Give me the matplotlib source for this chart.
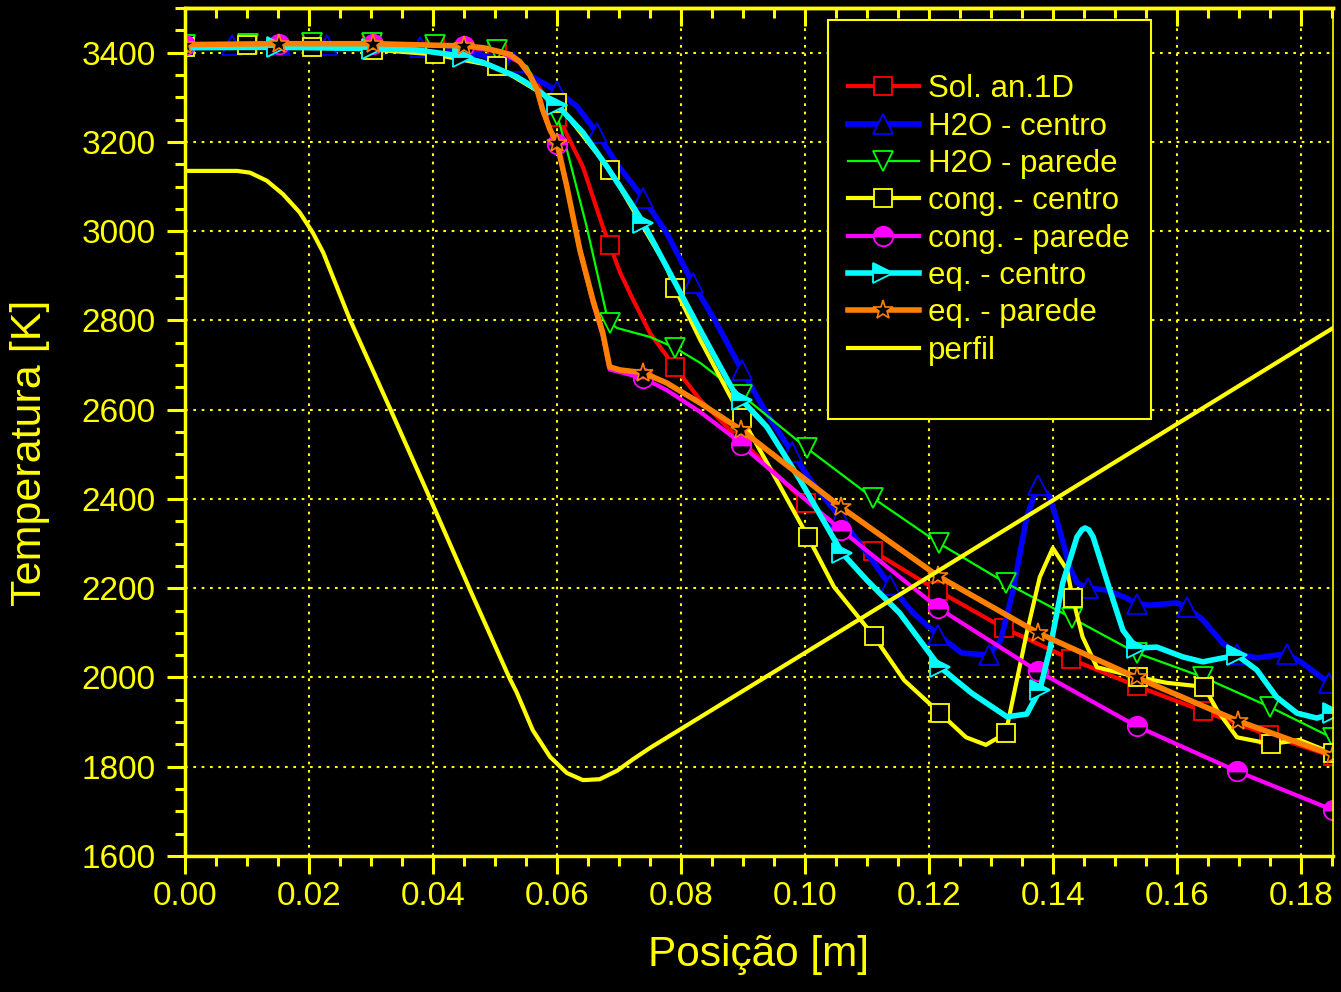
import numpy as np
import matplotlib
matplotlib.use('Agg')
import matplotlib.pyplot as plt
from matplotlib.lines import Line2D
from matplotlib.patches import Rectangle
from matplotlib.ticker import MultipleLocator, FormatStrFormatter

plt.rcParams['font.family'] = ['Liberation Sans', 'DejaVu Sans']

# Sol. an.1D
sol_x = [0.0, 0.0102, 0.0205, 0.0302, 0.0403, 0.0503, 0.054, 0.0568, 0.059, 0.06, 0.061, 0.0642, 0.0674,
         0.0685, 0.0702, 0.0723, 0.075, 0.079, 0.0831, 0.0884, 0.0898, 0.1002, 0.111, 0.1215, 0.1321,
         0.1429, 0.1535, 0.1642, 0.1748, 0.1852]
sol_y = [3418, 3419, 3420, 3420, 3418, 3404, 3378, 3330, 3280, 3255, 3234, 3144, 3010,
         2970, 2907, 2846, 2772, 2696, 2622, 2548, 2530, 2391, 2283, 2194, 2111,
         2041, 1981, 1925, 1871, 1823]
sol_mk = [0.0, 0.0102, 0.0205, 0.0302, 0.0403, 0.0503, 0.06, 0.0685, 0.079, 0.0898, 0.1002, 0.111,
          0.1215, 0.1321, 0.1429, 0.1535, 0.1642, 0.1748, 0.1852]

# H2O - centro
h2oc_x = [0.0, 0.0076, 0.0153, 0.0229, 0.0305, 0.0379, 0.0455, 0.053, 0.0561, 0.06, 0.0632, 0.0665,
          0.0697, 0.0739, 0.0777, 0.0819, 0.0855, 0.0898, 0.0939, 0.0979, 0.101, 0.1056, 0.11, 0.1137,
          0.1175, 0.1215, 0.1253, 0.1297, 0.1316, 0.1336, 0.1358, 0.1376, 0.1395, 0.1411, 0.1427, 0.1439,
          0.1456, 0.1487, 0.1519, 0.1535, 0.1556, 0.16, 0.1616, 0.1642, 0.1674, 0.1697, 0.1729, 0.1777,
          0.1802, 0.1845, 0.1852]
h2oc_y = [3416, 3417, 3417, 3417, 3416, 3412, 3402, 3378, 3345, 3315, 3280, 3220,
          3150, 3075, 2996, 2884, 2800, 2689, 2590, 2505, 2440, 2360, 2279, 2207,
          2144, 2095, 2055, 2050, 2084, 2196, 2360, 2431, 2405, 2331, 2248, 2212,
          2200, 2196, 2178, 2165, 2162, 2167, 2158, 2129, 2077, 2053, 2044, 2053,
          2033, 1988, 1982]
h2oc_mk = [0.0, 0.0076, 0.0153, 0.0229, 0.0305, 0.0379, 0.0455, 0.053, 0.06, 0.0665, 0.0739, 0.0819,
           0.0898, 0.0979, 0.1056, 0.1137, 0.1215, 0.1297, 0.1376, 0.1456, 0.1535, 0.1616, 0.1697,
           0.1777, 0.1845]

# H2O - parede
h2op_x = [0.0, 0.0102, 0.0205, 0.0302, 0.0403, 0.0503, 0.0552, 0.0568, 0.06, 0.0616, 0.0648, 0.0681,
          0.0685, 0.0697, 0.075, 0.079, 0.0831, 0.0898, 0.1003, 0.111, 0.1216, 0.1324, 0.1431, 0.1535,
          0.1642, 0.175, 0.1852]
h2op_y = [3418, 3420, 3422, 3422, 3418, 3407, 3369, 3324, 3261, 3183, 3010, 2808,
          2795, 2783, 2763, 2739, 2705, 2633, 2514, 2402, 2301, 2212, 2133, 2055,
          2001, 1934, 1864]
h2op_mk = [0.0, 0.0102, 0.0205, 0.0302, 0.0403, 0.0503, 0.06, 0.0685, 0.079, 0.0898, 0.1003, 0.111,
           0.1216, 0.1324, 0.1431, 0.1535, 0.1642, 0.175, 0.1852]

# cong. - centro
cc_x = [0.0, 0.01, 0.0205, 0.0303, 0.0403, 0.0503, 0.06, 0.0685, 0.0777, 0.079, 0.0831, 0.0898,
        0.0939, 0.1005, 0.1047, 0.1111, 0.116, 0.1218, 0.126, 0.1292, 0.1324, 0.1358, 0.1379, 0.14,
        0.1423, 0.1432, 0.1448, 0.1471, 0.1503, 0.1537, 0.1584, 0.1644, 0.1665, 0.1697, 0.1752, 0.1798,
        0.1852]
cc_y = [3413, 3418, 3413, 3407, 3396, 3369, 3288, 3138, 2920, 2873, 2757, 2582,
        2481, 2315, 2203, 2093, 1994, 1920, 1866, 1849, 1875, 2100, 2225, 2290,
        2241, 2178, 2091, 2023, 2012, 2001, 1988, 1979, 1927, 1866, 1851, 1860,
        1830]
cc_mk = [0.0, 0.01, 0.0205, 0.0303, 0.0403, 0.0503, 0.06, 0.0685, 0.079, 0.0898, 0.1005, 0.1111,
         0.1218, 0.1324, 0.1432, 0.1537, 0.1644, 0.1752, 0.1852]

# cong. - parede
cp_x = [0.0, 0.0152, 0.0303, 0.045, 0.0508, 0.054, 0.0556, 0.0568, 0.0577, 0.0589, 0.06, 0.0616,
        0.0637, 0.0658, 0.0674, 0.0685, 0.0702, 0.0739, 0.0777, 0.0831, 0.0884, 0.0897, 0.1058, 0.1215,
        0.1376, 0.1535, 0.1697, 0.1852]
cp_y = [3418, 3420, 3420, 3415, 3402, 3378, 3350, 3315, 3270, 3225, 3195, 3100,
        2955, 2840, 2765, 2690, 2684, 2671, 2644, 2595, 2539, 2521, 2331, 2156,
        2014, 1891, 1790, 1703]
cp_mk = [0.0, 0.0152, 0.0303, 0.045, 0.06, 0.0739, 0.0897, 0.1058, 0.1215, 0.1376, 0.1535, 0.1697,
         0.1852]

# eq. - centro
ec_x = [0.0, 0.0148, 0.0302, 0.0374, 0.0427, 0.0448, 0.0481, 0.0535, 0.0561, 0.0589, 0.06, 0.0642,
        0.0681, 0.0723, 0.0739, 0.0777, 0.0831, 0.0884, 0.0898, 0.0939, 0.0992, 0.106, 0.11, 0.1153,
        0.1218, 0.1269, 0.1326, 0.1358, 0.1379, 0.1395, 0.1416, 0.1439, 0.1447, 0.1452, 0.1458, 0.1465,
        0.1492, 0.1513, 0.1535, 0.1568, 0.161, 0.1642, 0.1697, 0.1729, 0.1761, 0.1794, 0.1826, 0.1852]
ec_y = [3411, 3412, 3409, 3406, 3396, 3390, 3378, 3346, 3324, 3295, 3283, 3221,
        3144, 3055, 3019, 2920, 2779, 2644, 2622, 2561, 2443, 2279, 2218, 2144,
        2023, 1965, 1912, 1918, 1972, 2062, 2212, 2315, 2331, 2335, 2331, 2315,
        2196, 2106, 2066, 2068, 2046, 2035, 2050, 2017, 1956, 1920, 1909, 1920]
ec_mk = [0.0, 0.0148, 0.0302, 0.0448, 0.06, 0.0739, 0.0898, 0.106, 0.1218, 0.1379, 0.1535, 0.1697,
         0.1852]

# eq. - parede
ep_x = [0.0, 0.0152, 0.0303, 0.045, 0.0481, 0.0508, 0.0524, 0.054, 0.0556, 0.0568, 0.0577, 0.0589,
        0.06, 0.0616, 0.0637, 0.0658, 0.0674, 0.0685, 0.0702, 0.0739, 0.0777, 0.0831, 0.0897, 0.1058,
        0.1215, 0.1376, 0.1535, 0.1698, 0.1852]
ep_y = [3418, 3420, 3420, 3415, 3411, 3402, 3396, 3380, 3351, 3317, 3272, 3227,
        3198, 3100, 2958, 2846, 2772, 2696, 2689, 2683, 2660, 2615, 2555, 2382,
        2227, 2100, 2000, 1903, 1826]
ep_mk = [0.0, 0.0152, 0.0303, 0.045, 0.06, 0.0739, 0.0897, 0.1058, 0.1215, 0.1376, 0.1535, 0.1698,
         0.1852]

# perfil
pf_x = [0.0, 0.0084, 0.0105, 0.0132, 0.0158, 0.0185, 0.0206, 0.0223, 0.0266, 0.0331, 0.0395, 0.046,
        0.0524, 0.0535, 0.0561, 0.0589, 0.0616, 0.0642, 0.0669, 0.0697, 0.0723, 0.075, 0.1, 0.1852]
pf_y = [3135, 3135, 3131, 3113, 3083, 3042, 2997, 2952, 2802, 2602, 2402, 2196,
        1997, 1967, 1882, 1822, 1786, 1770, 1772, 1791, 1817, 1842, 2055, 2783]

YEL = '#ffff00'

series = [
    ('Sol. an.1D', sol_x, sol_y, sol_mk,
     dict(color='#ff0000', lw=3, marker='s', ms=13, mec='#ff0000', mfc='black', mew=1.3)),
    ('H2O - centro', h2oc_x, h2oc_y, h2oc_mk,
     dict(color='#0000ff', lw=4, marker='^', ms=15, mec='#0000ff', mfc='black', mew=1.3)),
    ('H2O - parede', h2op_x, h2op_y, h2op_mk,
     dict(color='#00ff00', lw=1.6, marker='v', ms=15, mec='#00ff00', mfc='black', mew=1.3)),
    ('cong. - centro', cc_x, cc_y, cc_mk,
     dict(color=YEL, lw=3, marker='s', ms=13, mec=YEL, mfc='black', mew=1.3)),
    ('cong. - parede', cp_x, cp_y, cp_mk,
     dict(color='#ff00ff', lw=3, marker='o', ms=14, mec='#ff00ff', mfc='#ff00ff',
          mfcalt='black', fillstyle='top', mew=1.3)),
    ('eq. - centro', ec_x, ec_y, ec_mk,
     dict(color='#00ffff', lw=4, marker='>', ms=15, mec='#00ffff', mfc='#00ffff',
          mfcalt='black', fillstyle='top', mew=1.3)),
    ('eq. - parede', ep_x, ep_y, ep_mk,
     dict(color='#ff8000', lw=4, marker='*', ms=15, mec='#ff8000', mfc='black', mew=1.2)),
    ('perfil', pf_x, pf_y, None,
     dict(color=YEL, lw=3)),
]

fig = plt.figure(figsize=(13.41, 9.92), dpi=100, facecolor='black')
ax = fig.add_axes([185 / 1341, 136 / 992, 1148 / 1341, 848 / 992])
ax.set_facecolor('black')

handles = []
for name, x, y, mk, st in series:
    x = np.array(x)
    if mk is not None:
        idx = list(np.flatnonzero(np.isin(x, mk)))
        ax.plot(x, y, markevery=idx, **st)
    else:
        ax.plot(x, y, **st)
    handles.append(Line2D([], [], **st))

ax.set_xlim(0, 0.1852)
ax.set_ylim(1600, 3500)

ax.xaxis.set_major_locator(MultipleLocator(0.02))
ax.xaxis.set_minor_locator(MultipleLocator(0.005))
ax.xaxis.set_major_formatter(FormatStrFormatter('%.2f'))
ax.yaxis.set_major_locator(MultipleLocator(200))
ax.yaxis.set_minor_locator(MultipleLocator(50))

ax.tick_params(axis='both', which='both', colors=YEL, direction='out', width=2.2,
               top=False, right=False, labelsize=24)
ax.tick_params(which='major', length=13)
ax.tick_params(which='minor', length=7)
ax.tick_params(axis='x', pad=5)
ax.tick_params(axis='y', pad=8)

sec = ax.secondary_xaxis('top')
sec.xaxis.set_major_locator(MultipleLocator(0.02))
sec.xaxis.set_minor_locator(MultipleLocator(0.005))
sec.tick_params(axis='x', which='both', direction='in', colors=YEL, width=2.2, labeltop=False)
sec.tick_params(which='major', length=13)
sec.tick_params(which='minor', length=7)
for s in sec.spines.values():
    s.set_color(YEL)
    s.set_linewidth(2.5)

for side in ['left', 'bottom', 'top']:
    ax.spines[side].set_color(YEL)
    ax.spines[side].set_linewidth(2.5)
ax.spines['right'].set_color(YEL)
ax.spines['right'].set_linewidth(1.2)

ax.set_axisbelow(True)
ax.grid(True, which='major', color=YEL, linestyle=(0, (1.3, 2.7)), linewidth=1.5)

ax.set_xlabel('Posição [m]', fontsize=30.5, color=YEL)
ax.set_ylabel('Temperatura [K]', fontsize=31, color=YEL)
ax.xaxis.set_label_coords(0.5, -0.093)
ax.yaxis.set_label_coords(-0.118, 0.475)

# legend box
ax.add_patch(Rectangle((0.560, 0.515), 0.2815, 0.471, transform=ax.transAxes,
                       facecolor='black', edgecolor=YEL, lw=1.5, zorder=4))
leg = ax.legend(handles, [s[0] for s in series], loc='center', bbox_to_anchor=(0.700, 0.750),
                frameon=False, fontsize=22.5, labelcolor=YEL, handlelength=2.27,
                handletextpad=0.29, labelspacing=0.235, numpoints=1, borderpad=0)
leg.set_zorder(5)

fig.savefig('out.png', dpi=100, facecolor='black')
